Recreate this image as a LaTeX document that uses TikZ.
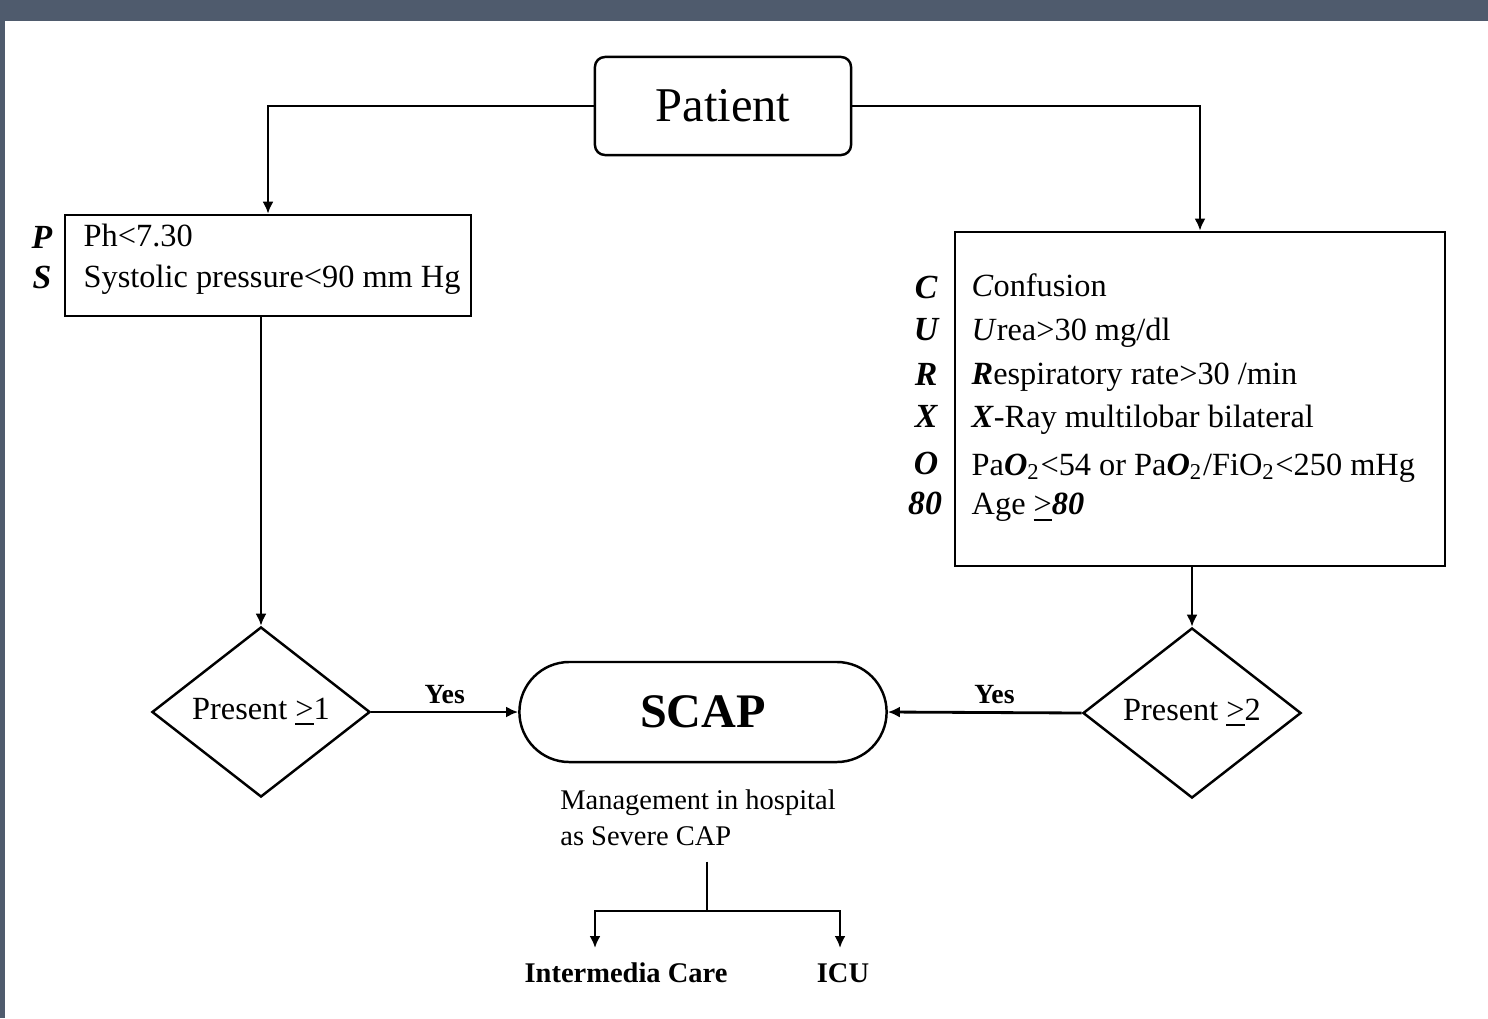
\documentclass[tikz,border=0pt]{standalone}
\usepackage{fontspec}
\setmainfont{Liberation Serif}
\usetikzlibrary{arrows.meta,shapes.geometric}
\definecolor{framegray}{HTML}{4F5B6D}

\begin{document}
\begin{tikzpicture}[x=0.01cm,y=-0.01cm,
  link/.style={line width=0.8pt,-{Latex[length=1.2mm,width=1.1mm]}},
  boxline/.style={draw,line width=0.7pt},
  body/.style={font=\fontsize{9.2}{11}\selectfont,inner sep=0pt,text height=1.55ex,text depth=0.45ex},
  tag/.style={body,font=\fontsize{9.6}{11}\selectfont\bfseries\itshape},
  cond/.style={boxline,diamond,aspect=1.28,inner sep=0pt,minimum width=2.18cm,minimum height=1.70cm,font=\fontsize{9.2}{11}\selectfont},
  yes/.style={font=\fontsize{7.9}{9}\selectfont\bfseries,inner sep=2pt}]
                \useasboundingbox (0,0) rectangle (1488,1018);
                \fill[framegray] (0,0) rectangle (1488,21);
                \fill[framegray] (0,0) rectangle (5,1018);
                % top
                \node[boxline,rounded corners=0.1cm,minimum width=2.56cm,minimum height=0.98cm,font=\fontsize{13.8}{16}\selectfont] (patient) at (723,106) {Patient};
                % left box
                \node[boxline,minimum width=4.06cm,minimum height=1.01cm] (ps) at (268,265.5) {};
                \node[tag] (tp) at (42,240) {P};
                \node[tag] (ts) at (42,280) {S};
                \node[body,anchor=west] (ph) at (83,238) {Ph<7.30};
                \node[body,anchor=west] (sys) at (83,279) {Systolic pressure<90 mm Hg};
                % right box
                \node[boxline,minimum width=4.90cm,minimum height=3.34cm] (curxo) at (1200,399) {};
                \node[tag] (tc) at (926,290) {C};
                \node[tag] (tu) at (926,332) {U};
                \node[tag] (tr) at (926,377) {R};
                \node[tag] (tx) at (926,419) {X};
                \node[tag] (to) at (926,466) {O};
                \node[tag] (t80) at (925,506) {80};
                \node[body,anchor=west] (conf) at (971,288) {\textit{C}onfusion};
                \node[body,anchor=west] (urea) at (971,332) {\textit{U}rea>30 mg/dl};
                \node[body,anchor=west] (resp) at (971,376) {\textbf{\textit{R}}espiratory rate>30 /min};
                \node[body,anchor=west] (xray) at (971,419) {\textbf{\textit{X}}-Ray multilobar bilateral};
                \node[body,anchor=west] (oxy) at (971,467) {Pa\textbf{\textit{O}}\textsubscript{2}<54 or Pa\textbf{\textit{O}}\textsubscript{2}/FiO\textsubscript{2}<250 mHg};
                \node[body,anchor=west] (age) at (971,506) {Age \underline{>}\textbf{\textit{80}}};
                % decisions
                \node[cond] (d1) at (261,712) {Present \underline{>}1};
                \node[cond] (d2) at (1192,713) {Present \underline{>}2};
                \node[boxline,rounded corners=0.5cm,minimum width=3.67cm,minimum height=1.0cm,font=\fontsize{13.7}{16}\selectfont\bfseries] (scap) at (703,712) {SCAP};
                \node[align=left,inner sep=0pt,font=\fontsize{8.1}{10.2}\selectfont] (mgmt) at (698,818) {Management in hospital\\as Severe CAP};
                \node[font=\fontsize{8.1}{10}\selectfont\bfseries,inner sep=0pt] (inter) at (626,973) {Intermedia Care};
                \node[font=\fontsize{8.1}{10}\selectfont\bfseries,inner sep=0pt] (icu) at (843,973) {ICU};
                \coordinate (split) at (707,911);
                \coordinate (tipl) at (595,948);
                \coordinate (tipr) at (840,948);
                % connectors
                \draw[link] (patient.west) -| (ps.north);
                \draw[link] (patient.east) -| (curxo.north);
                \draw[link] (d1.north |- ps.south) -- (d1.north);
                \draw[link] (d2.north |- curxo.south) -- (d2.north);
                \draw[link] (d1.east) -- (scap.west) node[midway,above,yes] (yes1) {Yes};
                \draw[link] (d2.west) -- (scap.east) node[pos=0.45,above,yes] (yes2) {Yes};
                \draw[line width=0.8pt,shorten <=0.15cm] (mgmt.south -| split) -- (split);
                \draw[link] (split) -| (tipl);
                \draw[link] (split) -| (tipr);
\end{tikzpicture}
\end{document}
